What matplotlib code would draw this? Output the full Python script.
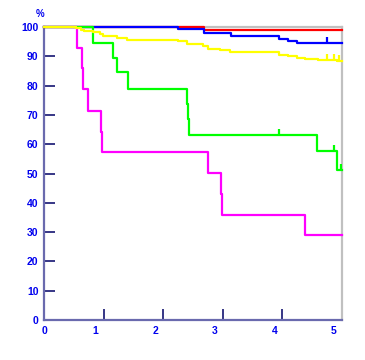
import matplotlib
matplotlib.use("Agg")
import matplotlib.pyplot as plt
from matplotlib.transforms import ScaledTranslation

# survival curves (time, % surviving), step after each time
red_t = [0, 2.685, 5.0]
red_s = [100, 98.9, 98.9]

blue_t = [0, 2.253, 2.685, 3.109, 3.138, 3.948, 4.089, 4.25, 5.0]
blue_s = [100, 99.4, 98.1, 97.8, 96.8, 95.9, 95.3, 94.5, 94.5]

magenta_t = [0, 0.549, 0.633, 0.646, 0.743, 0.951, 0.968, 2.757, 2.965, 2.992, 4.379, 5.0]
magenta_s = [100, 92.8, 86.0, 78.7, 71.5, 64.3, 57.4, 50.3, 43.0, 35.8, 29.0, 29.0]

green_t = [0, 0.827, 1.153, 1.230, 1.404, 2.394, 2.411, 2.438, 4.576, 4.911, 5.0]
green_s = [100, 94.7, 89.5, 84.5, 79.0, 73.7, 68.5, 63.1, 57.7, 51.2, 51.2]

yellow_t = [0, 0.537, 0.616, 0.676, 0.817, 0.940, 0.985, 1.230, 1.398, 2.253, 2.404,
            2.673, 2.757, 2.953, 3.121, 3.948, 4.089, 4.25, 4.379, 4.602, 4.911, 5.0]
yellow_s = [100, 99.7, 99.0, 98.5, 98.2, 97.7, 97.0, 96.2, 95.6, 95.1, 94.3,
            93.4, 92.6, 92.0, 91.4, 90.6, 90.0, 89.4, 89.1, 88.8, 88.3, 88.3]

# censored observations
blue_cens_t = [4.743]
blue_cens_s = [94.5]
green_cens_t = [3.948, 4.871, 4.983]
green_cens_s = [63.1, 57.7, 51.2]
yellow_cens_t = [4.743, 4.871, 4.955]
yellow_cens_s = [88.8, 88.8, 88.3]

x_ticks = [0, 1, 2, 3, 4, 5]
y_ticks = [0, 10, 20, 30, 40, 50, 60, 70, 80, 90, 100]

fig = plt.figure(figsize=(3.65, 3.6), dpi=100)
ax = fig.add_axes([44 / 365, 40 / 360, 298 / 365, 293 / 360])

curves = [
    (red_t, red_s, "#ff0000", [], []),
    (blue_t, blue_s, "#0000ff", blue_cens_t, blue_cens_s),
    (magenta_t, magenta_s, "#ff00ff", [], []),
    (green_t, green_s, "#00ff00", green_cens_t, green_cens_s),
    (yellow_t, yellow_s, "#ffff00", yellow_cens_t, yellow_cens_s),
]
for t, s, c, ct, cs in curves:
    ax.step(t, s, where="post", color=c, lw=1.6, zorder=3, clip_on=False)
    if ct:
        ax.vlines(ct, cs, [v + 2.1 for v in cs], color=c, lw=1.6, zorder=3)

ax.set_xlim(0, 5.0)
ax.set_ylim(0, 100)
ax.set_xticks(x_ticks)
ax.set_yticks(y_ticks)

for side in ["left", "bottom"]:
    ax.spines[side].set_color("#6a6aae")
    ax.spines[side].set_linewidth(1.6)
for side in ["top", "right"]:
    ax.spines[side].set_color("#c0c0c0")
    ax.spines[side].set_linewidth(1.6)

ax.tick_params(direction="in", length=8, width=1.1, color="#000066",
               labelcolor="#0000ee", labelsize=7.5)
ax.tick_params(axis="x", pad=4)
ax.tick_params(axis="y", pad=4)

for lab in ax.get_xticklabels() + ax.get_yticklabels():
    lab.set_fontfamily("Liberation Sans")
    lab.set_fontweight("bold")

# x labels sit a little left of their ticks in the original
shift = ScaledTranslation(-0.08, 0, fig.dpi_scale_trans)
for lab in ax.get_xticklabels()[1:]:
    lab.set_transform(lab.get_transform() + shift)

ax.text(-0.013, 1.045, "%", transform=ax.transAxes, ha="center", va="center",
        color="#0000ee", fontsize=7, fontweight="bold", family="Liberation Sans")

plt.savefig("out.png", dpi=100)
